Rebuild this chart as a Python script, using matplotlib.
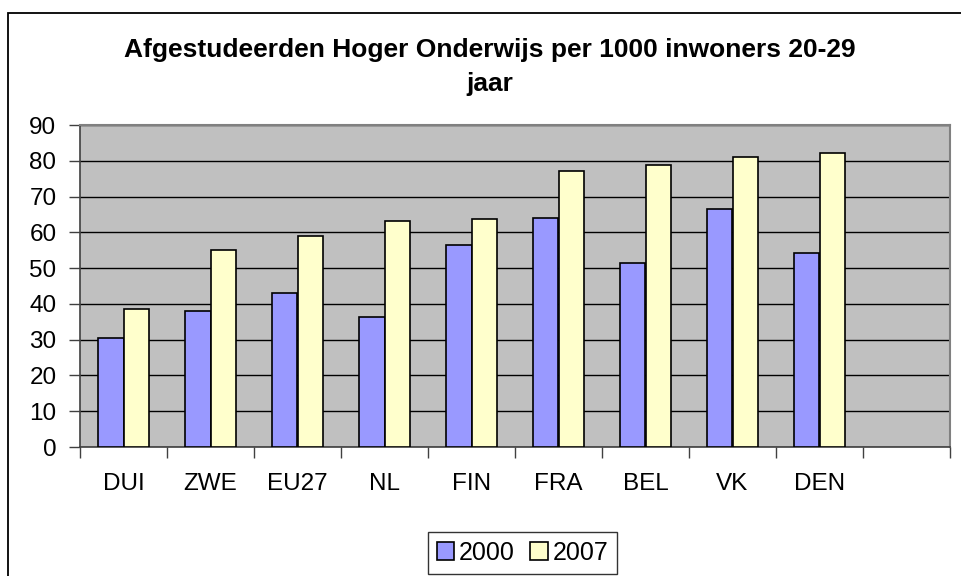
import numpy as np
import matplotlib.pyplot as plt
from matplotlib.patches import Rectangle

# graduates per 1000 inhabitants aged 20-29
landen = ["DUI", "ZWE", "EU27", "NL", "FIN", "FRA", "BEL", "VK", "DEN", ""]
jaar_2000 = [30.5, 38.0, 43.0, 36.2, 56.4, 64.1, 51.3, 66.4, 54.1]
jaar_2007 = [38.5, 55.2, 59.1, 63.2, 63.6, 77.1, 78.7, 81.0, 82.1]

plt.rcParams['font.family'] = ['Liberation Sans', 'DejaVu Sans']

W, H = 961, 576
fig = plt.figure(figsize=(W / 100, H / 100), dpi=100)

# outer chart frame (Excel style)
fig.patches.append(Rectangle((8 / W, -0.1), 1.1, (H - 13) / H + 0.1,
                             transform=fig.transFigure, fill=False,
                             edgecolor="black", linewidth=1.3))

ax = fig.add_axes([80 / W, (H - 447) / H, 870 / W, 322 / H])
ax.set_facecolor("#C0C0C0")

x = np.arange(len(jaar_2000))
bw = 0.297
ax.bar(x - bw / 2, jaar_2000, bw, color="#9999FF", edgecolor="black",
       linewidth=1.2, label="2000", zorder=3)
ax.bar(x + bw / 2, jaar_2007, bw, color="#FFFFCC", edgecolor="black",
       linewidth=1.2, label="2007", zorder=3)

ax.set_xlim(-0.5, len(landen) - 0.5)
ax.set_ylim(0, 90)
ax.set_yticks(range(0, 91, 10))
ax.yaxis.grid(True, color="black", linewidth=1.0, zorder=1)
ax.set_axisbelow(True)

ax.set_xticks(np.arange(len(landen)))
ax.set_xticklabels(landen)
ax.set_xticks(np.arange(-0.5, len(landen)), minor=True)
ax.tick_params(axis="x", which="major", length=0, pad=19, labelsize=17.5)
ax.tick_params(axis="x", which="minor", length=8, width=1, color="#404040")
ax.tick_params(axis="y", length=8, width=1, color="#404040", pad=9,
               labelsize=17.5)

for s in ["top", "right"]:
    ax.spines[s].set_color("#808080")
    ax.spines[s].set_linewidth(1.5)
for s in ["left", "bottom"]:
    ax.spines[s].set_color("#404040")
    ax.spines[s].set_linewidth(1.2)

fig.text(490 / W, 1 - 50 / H, "Afgestudeerden Hoger Onderwijs per 1000 inwoners 20-29",
         ha="center", va="center", fontsize=19, fontweight="bold")
fig.text(490 / W, 1 - 84 / H, "jaar", ha="center", va="center",
         fontsize=19, fontweight="bold")

leg = fig.legend(loc="upper left", bbox_to_anchor=(428 / W, 1 - 532 / H),
                 ncol=2, fontsize=18, frameon=True, fancybox=False,
                 handlelength=0.7, handleheight=0.7, handletextpad=0.2,
                 columnspacing=0.6, borderpad=0.35, borderaxespad=0)
leg.get_frame().set_edgecolor("black")
leg.get_frame().set_linewidth(1.0)

fig.savefig("out.png", dpi=100)
